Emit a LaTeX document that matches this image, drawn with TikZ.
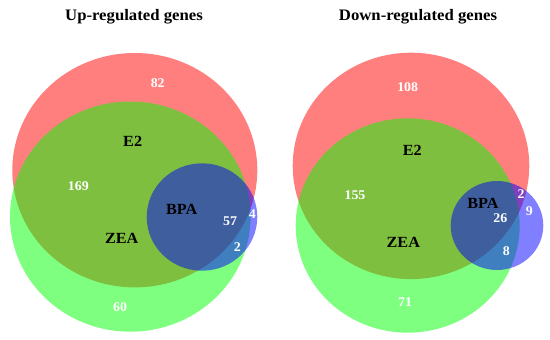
\documentclass[tikz,border=0pt]{standalone}
\usepackage{fontspec}
\setmainfont{Liberation Serif}[FakeStretch=1.045]
\definecolor{setred}{RGB}{255,0,0}
\definecolor{setgreen}{RGB}{0,255,0}
\definecolor{setblue}{RGB}{0,0,255}
\begin{document}
\begin{tikzpicture}[x=1pt,y=-1pt,
  setfill/.style={fill opacity=0.5, draw=none},
  num/.style={text=white, font=\fontsize{13.3}{14}\selectfont\bfseries, inner sep=0pt},
  lab/.style={text=black, font=\fontsize{15.5}{17}\selectfont\bfseries, inner sep=0pt},
  ttl/.style={text=black, font=\fontsize{16}{18}\selectfont\bfseries, inner sep=0pt}]
\useasboundingbox (0,0) rectangle (550,340);
% ---------- left panel: up-regulated ----------
\fill[setfill, fill=setred]   (134.8,170.2) ellipse [x radius=122.5, y radius=117.2];
\fill[setfill, fill=setgreen] (130.3,216.6) ellipse [x radius=120.3, y radius=115.1];
\fill[setfill, fill=setblue]  (202.0,217.0) ellipse [x radius=55.3, y radius=53.7];
\node[ttl] (tup) at (134,17) {Up-regulated genes};
\node[num] (u82)  at (157.7,83.3)  {82};
\node[lab] (uE2)  at (132.7,141.7) {E2};
\node[num] (u169) at (78.3,186)    {169};
\node[lab] (uBPA) at (181.7,209.3) {BPA};
\node[num] (u57)  at (230,221.7)   {57};
\node[num] (u4)   at (252.3,214.3) {4};
\node[lab] (uZEA) at (121.7,238.3) {ZEA};
\node[num] (u2)   at (237.3,247.5) {2};
\node[num] (u60)  at (120,307.3)   {60};
% ---------- right panel: down-regulated ----------
\fill[setfill, fill=setred]   (411.0,165.9) ellipse [x radius=118.3, y radius=113.2];
\fill[setfill, fill=setgreen] (407.7,225.5) ellipse [x radius=112.0, y radius=107.2];
\fill[setfill, fill=setblue]  (497.0,225.5) ellipse [x radius=46.3, y radius=44.5];
\node[ttl] (tdown) at (418,17) {Down-regulated genes};
\node[num] (d108) at (407.7,86.7)  {108};
\node[lab] (dE2)  at (412.3,150.7) {E2};
\node[num] (d155) at (355,195)     {155};
\node[lab] (dBPA) at (483,203)     {BPA};
\node[num] (d2)   at (521,194.3)   {2};
\node[num] (d9)   at (529.3,211)   {9};
\node[num] (d26)  at (500.3,218.3) {26};
\node[lab] (dZEA) at (403.3,242.3) {ZEA};
\node[num] (d8)   at (506.3,250.7) {8};
\node[num] (d71)  at (405,301.7)   {71};
\end{tikzpicture}
\end{document}
